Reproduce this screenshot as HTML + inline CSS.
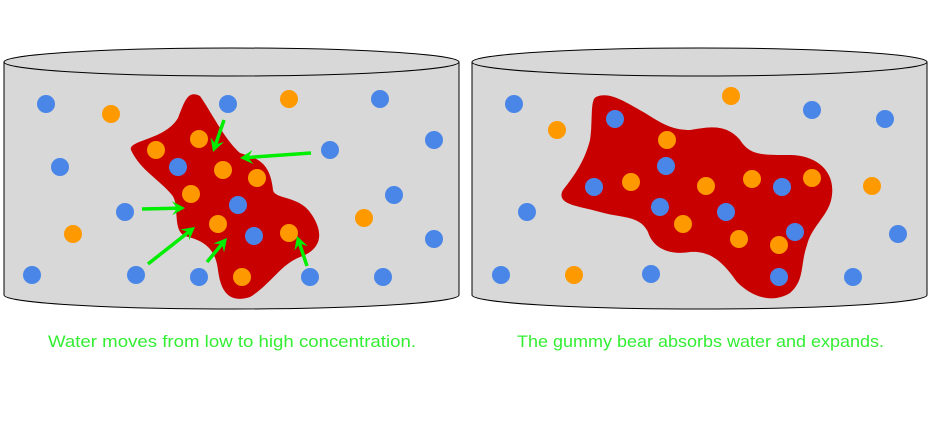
<!DOCTYPE html>
<html><head><meta charset="utf-8"><style>
body{margin:0;background:#fff;width:933px;height:439px;overflow:hidden}
svg{display:block}
</style></head><body>
<svg width="933" height="439" viewBox="0 0 933 439">
<g>
  <path d="M4,62 L4,295 A227.5,14 0 0 0 459,295 L459,62 Z" fill="#d8d8d8" stroke="#000" stroke-width="1"/>
  <ellipse cx="231.5" cy="62" rx="227.5" ry="14" fill="#d8d8d8" stroke="#000" stroke-width="1"/>
  <path fill="#c80000"
   d="M131,150 C128,140 165,140 178,118 C185,100 188,90 200,96 C213,115 225,140 240,153 C255,158 270,160 273,190 C275,200 300,195 312,215 C325,235 320,250 300,257 C280,265 270,285 250,297 C225,305 220,285 218,270 C215,245 200,240 185,236 C172,230 180,205 172,195 C160,180 140,170 131,150 Z"/>
</g>
<g>
  <path d="M472,62 L472,295 A227.5,14 0 0 0 927,295 L927,62 Z" fill="#d8d8d8" stroke="#000" stroke-width="1"/>
  <ellipse cx="699.5" cy="62" rx="227.5" ry="14" fill="#d8d8d8" stroke="#000" stroke-width="1"/>
  <path fill="#c80000"
   d="M596,97 C610,90 630,105 645,113 C660,122 670,130 690,130 C705,128 725,122 740,140 C750,155 760,155 790,155 C815,155 835,170 832,195 C830,215 812,225 807,245 C800,265 805,280 790,293 C770,305 750,295 737,282 C725,265 712,250 690,252 C665,256 652,245 648,232 C640,215 620,218 600,212 C580,206 555,205 563,190 C575,175 585,160 590,140 C593,120 590,100 596,97 Z"/>
</g>
<g id="dots"></g>
<g id="arrows"></g>
<text x="48" y="347" textLength="368" lengthAdjust="spacingAndGlyphs" fill="#33ee33" font-family="'Liberation Sans',sans-serif" font-size="17">Water moves from low to high concentration.</text>
<text x="517" y="347" textLength="367" lengthAdjust="spacingAndGlyphs" fill="#33ee33" font-family="'Liberation Sans',sans-serif" font-size="17">The gummy bear absorbs water and expands.</text>
</svg>
<script>
const blueX=[46,60,125,32,136,199,228,178,238,254,310,330,380,434,394,434,383,514,615,812,885,666,594,660,726,782,795,527,898,501,651,779,853];
const blueY=[104,167,212,275,275,277,104,167,205,236,277,150,99,140,195,239,277,104,119,110,119,166,187,207,212,187,232,212,234,275,274,277,277];
const orangeX=[111,73,156,199,223,257,191,218,289,242,289,364,731,557,667,631,706,752,812,683,739,779,872,574];
const orangeY=[114,234,150,139,170,178,194,224,233,277,99,218,96,130,140,182,186,179,178,224,239,245,186,275];
const arrowFrom=[[224,120],[311,153],[142,209],[148,264],[207,262],[307,266]];
const arrowTo=[[213,152],[240,158],[185,208],[195,227],[227,238],[297,236]];
const NS='http://www.w3.org/2000/svg';
const dots=document.getElementById('dots');
function dot(x,y,c,n){const e=document.createElementNS(NS,'circle');e.setAttribute('cx',x);e.setAttribute('cy',y);e.setAttribute('r',9);e.setAttribute('fill',c);


dots.appendChild(e);}
blueX.forEach((x,i)=>dot(x,blueY[i],'#4a86e8','water-molecule'));
orangeX.forEach((x,i)=>dot(x,orangeY[i],'#ff9900','sugar-molecule'));
const ar=document.getElementById('arrows');
arrowFrom.forEach((f,i)=>{const t=arrowTo[i];const dx=t[0]-f[0],dy=t[1]-f[1],L=Math.hypot(dx,dy),ux=dx/L,uy=dy/L;
const g=document.createElementNS(NS,'g');


const l=document.createElementNS(NS,'line');l.setAttribute('x1',f[0]);l.setAttribute('y1',f[1]);l.setAttribute('x2',t[0]-ux*4);l.setAttribute('y2',t[1]-uy*4);l.setAttribute('stroke','#00ee00');l.setAttribute('stroke-width',3.5);g.appendChild(l);
const bx=t[0]-ux*13,by=t[1]-uy*13;const p=document.createElementNS(NS,'polygon');
p.setAttribute('points',`${t[0]},${t[1]} ${bx-uy*7},${by+ux*7} ${t[0]-ux*8},${t[1]-uy*8} ${bx+uy*7},${by-ux*7}`);p.setAttribute('fill','#00ee00');g.appendChild(p);ar.appendChild(g);});
</script>
</body></html>
